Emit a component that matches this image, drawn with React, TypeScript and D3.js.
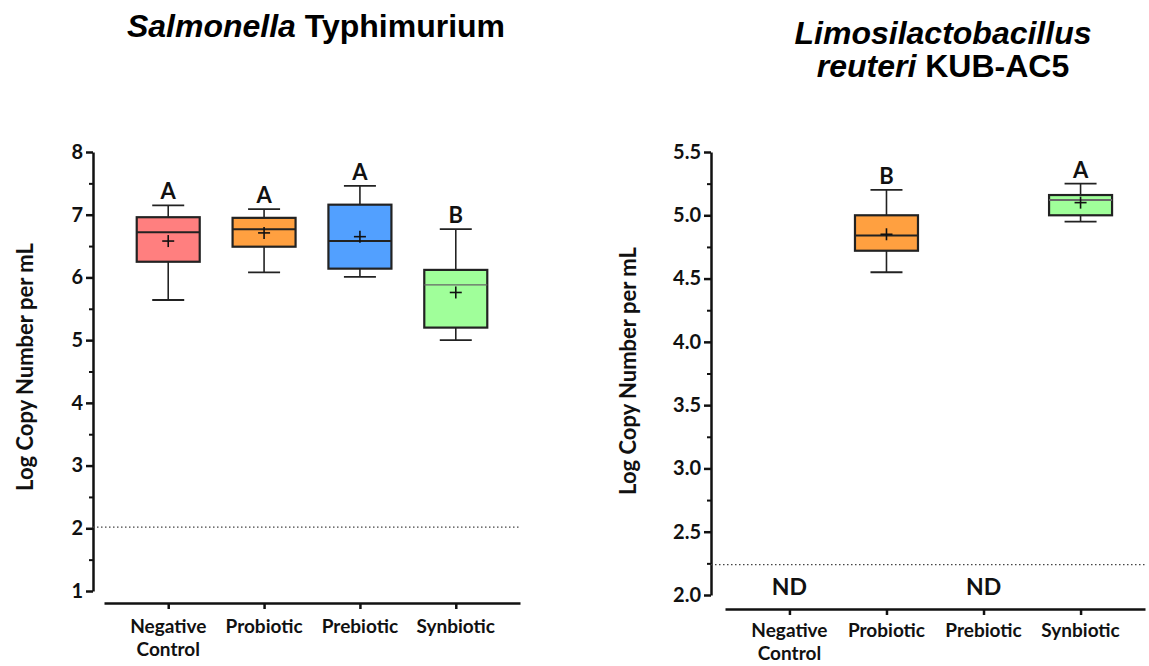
import * as d3 from "d3";
import { useEffect, useRef } from "react";

const groups = ["Negative Control", "Probiotic", "Prebiotic", "Synbiotic"];
const boxColors = ["#ff7f7f", "#ffa040", "#52a0ff", "#a0ff9a"];
const medianColors = ["#222", "#222", "#222", "#666"];

// Salmonella Typhimurium
const salMin = [5.64, 6.08, 6.01, 5.0];
const salQ1 = [6.25, 6.49, 6.14, 5.2];
const salMedian = [6.72, 6.77, 6.58, 5.88];
const salQ3 = [6.96, 6.95, 7.16, 6.12];
const salMax = [7.15, 7.09, 7.46, 6.77];
const salMean = [6.58, 6.71, 6.65, 5.76];
const salLetters = ["A", "A", "A", "B"];
const salLod = 2.02;
const salTicks = [1, 2, 3, 4, 5, 6, 7, 8];
const salMinor = [1.5, 2.5, 3.5, 4.5, 5.5, 6.5, 7.5];

// Limosilactobacillus reuteri KUB-AC5 (null = not detected)
const lrMin = [null, 4.55, null, 4.95];
const lrQ1 = [null, 4.72, null, 5.0];
const lrMedian = [null, 4.84, null, 5.12];
const lrQ3 = [null, 5.0, null, 5.16];
const lrMax = [null, 5.2, null, 5.25];
const lrMean = [null, 4.85, null, 5.1];
const lrLetters = [null, "B", null, "A"];
const lrLod = 2.24;
const lrTicks = [2.0, 2.5, 3.0, 3.5, 4.0, 4.5, 5.0, 5.5];
const lrMinor = [2.25, 2.75, 3.25, 3.75, 4.25, 4.75, 5.25];

const font = "Lato, 'Open Sans', sans-serif";

const drawPanel = (svg, p) => {
    const g = svg.append("g");
    const y = d3.scaleLinear().domain(p.domain).range(p.yRange);
    const x = d3.scalePoint().domain(groups).range(p.xRange).padding(p.pad);

    // y axis
    const ya = g.append("g").attr("transform", `translate(${p.axisX},0)`)
        .call(d3.axisLeft(y).tickValues(p.ticks).tickSize(7).tickSizeOuter(0).tickPadding(3).tickFormat(d3.format(p.fmt)));
    ya.selectAll("path,line").attr("stroke", "#111").attr("stroke-width", 2.5);
    ya.selectAll("text").attr("font-family", font).attr("font-weight", 700).attr("font-size", 20).attr("fill", "#111");
    const ym = g.append("g").attr("transform", `translate(${p.axisX},0)`)
        .call(d3.axisLeft(y).tickValues(p.minor).tickSize(4).tickSizeOuter(0).tickFormat(() => ""));
    ym.select("path").remove();
    ym.selectAll("line").attr("stroke", "#111").attr("stroke-width", 2);

    // x axis
    const xa = g.append("g").attr("transform", `translate(0,${p.xAxisY})`)
        .call(d3.axisBottom(x).tickSize(6).tickSizeOuter(0).tickFormat(() => ""));
    xa.selectAll("path,line").attr("stroke", "#111").attr("stroke-width", 2.5);
    xa.selectAll("text").remove();
    groups.forEach((name) => {
        const parts = name.split(" ");
        const t = g.append("text").attr("text-anchor", "middle").attr("font-family", font)
            .attr("font-weight", 700).attr("font-size", 19).attr("fill", "#111");
        parts.forEach((w, k) => {
            t.append("tspan").attr("x", x(name)).attr("y", p.labelY + k * 23).text(w);
        });
    });

    // limit of detection
    g.append("line").attr("x1", p.axisX).attr("x2", p.xRange[1]).attr("y1", y(p.lod)).attr("y2", y(p.lod))
        .attr("stroke", "#444").attr("stroke-width", 1.2).attr("stroke-dasharray", "1.5,2.5");

    const bw = 63;
    const cap = 32;
    groups.forEach((name, i) => {
        const cx = x(name);
        if (p.q1[i] == null) {
            g.append("text").attr("x", cx).attr("y", p.ndY).attr("text-anchor", "middle")
                .attr("font-family", font).attr("font-weight", 700).attr("font-size", 23).attr("fill", "#111").text("ND");
            return;
        }
        const st = "#222";
        // whiskers
        g.append("line").attr("x1", cx).attr("x2", cx).attr("y1", y(p.max[i])).attr("y2", y(p.q3[i])).attr("stroke", st).attr("stroke-width", 1.6);
        g.append("line").attr("x1", cx).attr("x2", cx).attr("y1", y(p.q1[i])).attr("y2", y(p.min[i])).attr("stroke", st).attr("stroke-width", 1.6);
        g.append("line").attr("x1", cx - cap / 2).attr("x2", cx + cap / 2).attr("y1", y(p.max[i])).attr("y2", y(p.max[i])).attr("stroke", st).attr("stroke-width", 1.8);
        g.append("line").attr("x1", cx - cap / 2).attr("x2", cx + cap / 2).attr("y1", y(p.min[i])).attr("y2", y(p.min[i])).attr("stroke", st).attr("stroke-width", 1.8);
        // box
        g.append("rect").attr("x", cx - bw / 2).attr("width", bw).attr("y", y(p.q3[i])).attr("height", y(p.q1[i]) - y(p.q3[i]))
            .attr("fill", boxColors[i]).attr("stroke", st).attr("stroke-width", 2.2);
        g.append("line").attr("x1", cx - bw / 2).attr("x2", cx + bw / 2).attr("y1", y(p.median[i])).attr("y2", y(p.median[i]))
            .attr("stroke", medianColors[i]).attr("stroke-width", i == 3 && p.thinLast ? 1.2 : 2);
        // mean
        const my = y(p.mean[i]);
        g.append("line").attr("x1", cx - 6).attr("x2", cx + 6).attr("y1", my).attr("y2", my).attr("stroke", "#111").attr("stroke-width", 1.6);
        g.append("line").attr("x1", cx).attr("x2", cx).attr("y1", my - 6).attr("y2", my + 6).attr("stroke", "#111").attr("stroke-width", 1.6);
        // letter
        g.append("text").attr("x", cx).attr("y", y(p.max[i]) - 6).attr("text-anchor", "middle")
            .attr("font-family", font).attr("font-weight", 700).attr("font-size", 22).attr("fill", "#111").text(p.letters[i]);
    });

    // y title
    g.append("text").attr("transform", `translate(${p.titleX},${p.titleY}) rotate(-90)`).attr("text-anchor", "middle")
        .attr("font-family", font).attr("font-weight", 700).attr("font-size", 22).attr("fill", "#111").text("Log Copy Number per mL");
};

export default function App() {
    const ref = useRef(null);

    useEffect(() => {
        const svg = d3.select(ref.current);
        svg.selectAll("*").remove();

        drawPanel(svg, {
            domain: [1, 8], yRange: [591, 152], axisX: 93, ticks: salTicks, minor: salMinor, fmt: "d",
            xRange: [104, 520], pad: 0.67, xAxisY: 603, labelY: 633, lod: salLod,
            min: salMin, q1: salQ1, median: salMedian, q3: salQ3, max: salMax, mean: salMean, letters: salLetters,
            titleX: 33, titleY: 367, thinLast: true, ndY: 0,
        });
        drawPanel(svg, {
            domain: [2, 5.5], yRange: [595, 152], axisX: 711, ticks: lrTicks, minor: lrMinor, fmt: ".1f",
            xRange: [725, 1145], pad: 0.664, xAxisY: 609, labelY: 637, lod: lrLod,
            min: lrMin, q1: lrQ1, median: lrMedian, q3: lrQ3, max: lrMax, mean: lrMean, letters: lrLetters,
            titleX: 636, titleY: 371, thinLast: false, ndY: 595,
        });

        const tf = "'Liberation Sans', Arial, sans-serif";
        const t1 = svg.append("text").attr("x", 316).attr("y", 37).attr("text-anchor", "middle")
            .attr("font-family", tf).attr("font-weight", 700).attr("font-size", 32).attr("fill", "#000");
        t1.append("tspan").attr("font-style", "italic").text("Salmonella");
        t1.append("tspan").text(" Typhimurium");
        const t2 = svg.append("text").attr("x", 943).attr("y", 44).attr("text-anchor", "middle")
            .attr("font-family", tf).attr("font-weight", 700).attr("font-size", 32).attr("fill", "#000");
        t2.append("tspan").attr("font-style", "italic").text("Limosilactobacillus");
        const t3 = svg.append("text").attr("x", 943).attr("y", 77).attr("text-anchor", "middle")
            .attr("font-family", tf).attr("font-weight", 700).attr("font-size", 32).attr("fill", "#000");
        t3.append("tspan").attr("font-style", "italic").text("reuteri");
        t3.append("tspan").text(" KUB-AC5");
    }, []);

    return (
        <div style={{ position: "absolute", left: 0, top: 0, background: "#fff" }}>
            <svg ref={ref} width={1149} height={666} style={{ display: "block" }}></svg>
        </div>
    );
}
